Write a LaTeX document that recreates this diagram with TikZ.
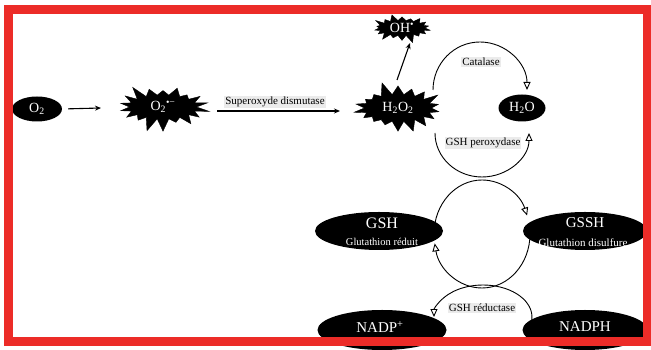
\documentclass[tikz,border=0pt]{standalone}
\usepackage{fontspec}
\setmainfont{Liberation Serif}
\usetikzlibrary{shapes.geometric,shapes.symbols,arrows.meta}
\definecolor{framered}{RGB}{236,44,40}
\begin{document}
\begin{tikzpicture}[x=1pt,y=1pt,
  blob/.style={ellipse, fill=black, text=white, inner sep=0pt},
  burst/.style={starburst, fill=black, draw=black, text=white, inner sep=0pt,
    starburst point height=14pt, starburst points=18},
  lbl/.style={fill=black!8, inner sep=1pt, font=\fontsize{11}{13}\selectfont},
  cyc/.style={line width=0.9pt, -{Triangle[length=8pt,width=7pt,fill=white]}},
  rxn/.style={line width=1.1pt, -{Stealth[length=6pt,width=5pt]}},
  big/.style={font=\fontsize{14}{16}\selectfont},
  wt/.style={text=white, inner sep=0pt}]
\useasboundingbox (0,0) rectangle (651,350);
\fill[white] (0,0) rectangle (651,350);

% named coordinates for connector ends
\coordinate (a1) at (101,242);
\coordinate (sodS) at (217,239);
\coordinate (sodE) at (340,239);
\coordinate (ohS) at (397,270);
\coordinate (ohE) at (410,307);
\coordinate (catS) at (433,260);
\coordinate (perS) at (435,217);
\coordinate (cycA) at (434,116);
\coordinate (cycB) at (530,116);
\coordinate (redS) at (530.3,24.7);

% nodes
\node[blob, minimum width=50pt, minimum height=25pt, big] (o2) at (37,241) {O\textsubscript{2}};
\node[burst, minimum width=95pt, minimum height=52pt, big, random starburst=3] (o2m) at (163,243) {O\textsubscript{2}\textsuperscript{•−}};
\node[burst, minimum width=95pt, minimum height=55pt, big, random starburst=5] (h2o2) at (398,242) {H\textsubscript{2}O\textsubscript{2}};
\node[burst, minimum width=62pt, minimum height=31pt, starburst point height=8pt, big, random starburst=9] (oh) at (402,322) {OH\textsuperscript{•}};
\node[blob, minimum width=47pt, minimum height=27pt, big] (h2o) at (522,242) {H\textsubscript{2}O};

\node[blob, minimum width=128pt, minimum height=38pt] (gsh) at (379,119) {};
\node[wt, font=\fontsize{16}{18}\selectfont] (gshT) at (382,127) {GSH};
\node[wt, font=\fontsize{10.5}{12}\selectfont] (gshS) at (382,108) {Glutathion réduit};
\node[blob, minimum width=124pt, minimum height=38pt] (gssh) at (585,119) {};
\node[wt, font=\fontsize{15}{18}\selectfont] (gsshT) at (585,127) {GSSH};
\node[wt, font=\fontsize{11}{12}\selectfont] (gsshS) at (583,107) {Glutathion disulfure};
\node[blob, minimum width=129pt, minimum height=40pt] (nadp) at (382,20) {};
\node[wt, font=\fontsize{15}{18}\selectfont] (nadpT) at (380,23) {NADP\textsuperscript{+}};
\node[blob, minimum width=125pt, minimum height=40pt] (nadph) at (585,20) {};
\node[wt, font=\fontsize{15}{18}\selectfont] (nadphT) at (585,23) {NADPH};

% labels
\node[lbl] (sodL) at (275,248) {Superoxyde dismutase};
\node[lbl] (catL) at (481,288) {Catalase};
\node[lbl] (perL) at (483,207) {GSH peroxydase};
\node[lbl] (redL) at (482,42) {GSH réductase};

% connectors
\draw[rxn, shorten <=6pt] (o2.east) -- (a1);
\draw[rxn] (sodS) -- (sodE);
\draw[rxn] (ohS) -- (ohE);
\draw[cyc] (catS) arc[start angle=180, end angle=0, x radius=47, y radius=48];
\draw[cyc] (perS) arc[start angle=180, end angle=360, x radius=47, y radius=44];
\draw[cyc] (cycA) arc[start angle=180, end angle=20, x radius=48, y radius=54];
\draw[cyc] (cycB) arc[start angle=0, end angle=-170, x radius=48, y radius=54];
\draw[cyc] (redS) arc[start angle=-15, end angle=180, x radius=49, y radius=32];

% frame
\draw[framered, line width=9pt] (8.5,8) rectangle (647,340.5);
\end{tikzpicture}
\end{document}
